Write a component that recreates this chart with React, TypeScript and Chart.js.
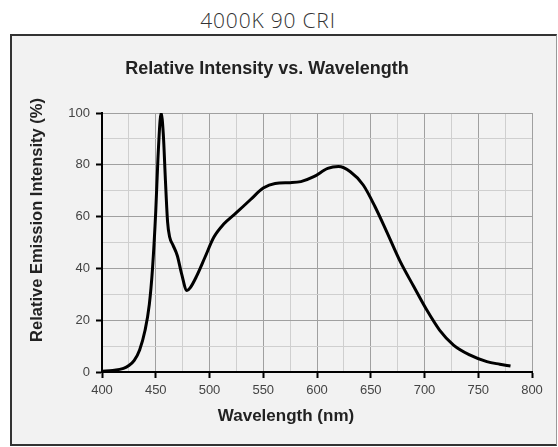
import React, { useEffect, useRef } from "react";
import { Chart, registerables } from "chart.js";

Chart.register(...registerables);

const pageTitle = "4000K 90 CRI";
const chartTitle = "Relative Intensity vs. Wavelength";
const xAxisTitle = "Wavelength (nm)";
const yAxisTitle = "Relative Emission Intensity (%)";

const wavelengths = [400, 410, 420, 425, 430, 435, 440, 444, 447, 450, 452, 454, 455, 457, 459, 461, 463, 466, 470, 474, 479, 482, 488, 496, 504, 513, 525, 538, 550, 561, 575, 585, 597, 610, 620, 631, 643, 654, 665, 677, 690, 702, 714, 727, 742, 758, 770, 780];
const intensities = [0.3, 0.6, 1.4, 2.5, 4.5, 8.5, 16, 26, 40, 62, 82, 97, 100, 92, 74, 58, 52, 49, 45, 38, 31.5, 32.5, 37, 44.5, 52, 57, 61.5, 66.5, 71, 72.8, 73.1, 73.5, 75.4, 78.6, 79.3, 77.3, 72.2, 63.8, 54, 43, 33, 24, 16.2, 10.4, 6.6, 4, 3, 2.3];

const xMin = 400, xMax = 800, xStep = 25, xLabelStep = 50;
const yMin = 0, yMax = 100, yStep = 10, yLabelStep = 20;

const CANVAS_W = 544;
const CANVAS_H = 408;

export default function App() {
  const ref = useRef<HTMLCanvasElement | null>(null);

  useEffect(() => {
    if (!ref.current) return;
    const textPlugin = {
      id: "customText",
      afterDraw(chart: any) {
        const { ctx, chartArea } = chart;
        ctx.save();
        ctx.fillStyle = "#222";
        ctx.textAlign = "center";
        ctx.textBaseline = "middle";
        ctx.font = "bold 18px 'Liberation Sans', Arial, sans-serif";
        ctx.fillText(chartTitle, 255, 33);
        ctx.font = "bold 17px 'Liberation Sans', Arial, sans-serif";
        ctx.fillText(xAxisTitle, chartArea.left + 184, chartArea.bottom + 44);
        ctx.translate(25, chartArea.top + 107);
        ctx.rotate(-Math.PI / 2);
        ctx.font = "bold 16.5px 'Liberation Sans', Arial, sans-serif";
        ctx.fillText(yAxisTitle, 0, 0);
        ctx.restore();
      },
    };
    const chart = new Chart(ref.current, {
      type: "line",
      data: {
        datasets: [
          {
            data: wavelengths.map((w, i) => ({ x: w, y: intensities[i] })),
            borderColor: "#000",
            borderWidth: 3,
            pointRadius: 0,
            tension: 0.4,
            cubicInterpolationMode: "monotone",
            fill: false,
          },
        ],
      },
      options: {
        responsive: false,
        animation: false,
        devicePixelRatio: 1,
        layout: { padding: { left: 0, top: 77, right: 24, bottom: 0 } },
        plugins: { legend: { display: false }, tooltip: { enabled: false }, title: { display: false } },
        scales: {
          x: {
            type: "linear",
            min: xMin,
            max: xMax,
            afterFit: (s: any) => { s.height = 72; },
            ticks: {
              stepSize: xStep,
              autoSkip: false,
              maxRotation: 0,
              padding: 5,
              color: "#444",
              font: { family: "'Liberation Sans', Arial, sans-serif", size: 13 },
              callback: (v: any) => (Number(v) % xLabelStep === 0 ? String(v) : ""),
            },
            grid: {
              color: (c: any) => (c.tick && c.tick.value % xLabelStep === 0 ? "#a0a0a0" : "#cfcfcf"),
              lineWidth: 1,
              tickLength: 6,
              tickColor: (c: any) => (c.tick && c.tick.value % xLabelStep === 0 ? "#000" : "rgba(0,0,0,0)"),
              tickWidth: 2,
            },
            border: { color: "#000", width: 2 },
          },
          y: {
            type: "linear",
            min: yMin,
            max: yMax,
            afterFit: (s: any) => { s.width = 90; },
            ticks: {
              stepSize: yStep,
              autoSkip: false,
              padding: 6,
              color: "#444",
              font: { family: "'Liberation Sans', Arial, sans-serif", size: 13 },
              callback: (v: any) => (Number(v) % yLabelStep === 0 ? String(v) : ""),
            },
            grid: {
              color: (c: any) => (c.tick && c.tick.value % yLabelStep === 0 ? "#a0a0a0" : "#cfcfcf"),
              lineWidth: 1,
              tickLength: 6,
              tickColor: (c: any) => (c.tick && c.tick.value % yLabelStep === 0 ? "#000" : "rgba(0,0,0,0)"),
              tickWidth: 2,
            },
            border: { color: "#000", width: 2 },
          },
        },
      },
      plugins: [textPlugin],
    } as any);
    return () => chart.destroy();
  }, []);

  return (
    <div style={{ position: "fixed", left: 0, top: 0, width: 558, height: 447, background: "#fff", overflow: "hidden" }}>
      <div
        style={{
          position: "absolute",
          left: 0,
          top: 6,
          width: 536,
          textAlign: "center",
          fontFamily: "'Open Sans', Lato, sans-serif",
          fontWeight: 300,
          fontSize: 21,
          letterSpacing: 0.8,
          lineHeight: "28px",
          color: "#333",
        }}
      >
        {pageTitle}
      </div>
      <div
        style={{
          position: "absolute",
          left: 10,
          top: 34,
          width: CANVAS_W,
          height: CANVAS_H,
          borderLeft: "2px solid #333",
          borderTop: "2px solid #333",
          borderBottom: "2px solid #333",
          borderRight: "1px solid #999",
          background: "#f2f2f2",
        }}
      >
        <canvas ref={ref} width={CANVAS_W} height={CANVAS_H} style={{ display: "block", width: CANVAS_W, height: CANVAS_H }} />
      </div>
    </div>
  );
}
